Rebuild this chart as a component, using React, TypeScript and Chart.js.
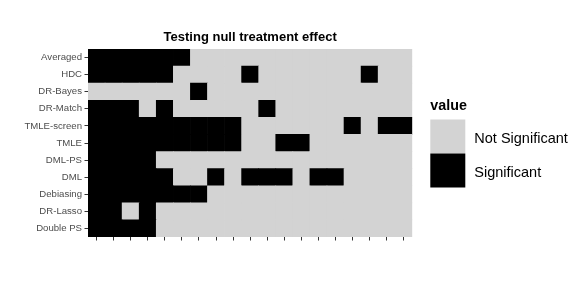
import React, { useEffect, useRef } from "react";
import { Chart, registerables } from "chart.js";

Chart.register(...registerables);

const FONT = "'Liberation Sans', Arial, Helvetica, sans-serif";

// Columns (replicates) — no labels shown on the axis
const columns = ["1", "2", "3", "4", "5", "6", "7", "8", "9", "10", "11", "12", "13", "14", "15", "16", "17", "18", "19"];

// Rows from top to bottom
const methods = ["Averaged", "HDC", "DR-Bayes", "DR-Match", "TMLE-screen", "TMLE", "DML-PS", "DML", "Debiasing", "DR-Lasso", "Double PS"];

// 1 = Significant, 0 = Not Significant
const averaged = [1, 1, 1, 1, 1, 1, 0, 0, 0, 0, 0, 0, 0, 0, 0, 0, 0, 0, 0];
const hdc = [1, 1, 1, 1, 1, 0, 0, 0, 0, 1, 0, 0, 0, 0, 0, 0, 1, 0, 0];
const drBayes = [0, 0, 0, 0, 0, 0, 1, 0, 0, 0, 0, 0, 0, 0, 0, 0, 0, 0, 0];
const drMatch = [1, 1, 1, 0, 1, 0, 0, 0, 0, 0, 1, 0, 0, 0, 0, 0, 0, 0, 0];
const tmleScreen = [1, 1, 1, 1, 1, 1, 1, 1, 1, 0, 0, 0, 0, 0, 0, 1, 0, 1, 1];
const tmle = [1, 1, 1, 1, 1, 1, 1, 1, 1, 0, 0, 1, 1, 0, 0, 0, 0, 0, 0];
const dmlPs = [1, 1, 1, 1, 0, 0, 0, 0, 0, 0, 0, 0, 0, 0, 0, 0, 0, 0, 0];
const dml = [1, 1, 1, 1, 1, 0, 0, 1, 0, 1, 1, 1, 0, 1, 1, 0, 0, 0, 0];
const debiasing = [1, 1, 1, 1, 1, 1, 1, 0, 0, 0, 0, 0, 0, 0, 0, 0, 0, 0, 0];
const drLasso = [1, 1, 0, 1, 0, 0, 0, 0, 0, 0, 0, 0, 0, 0, 0, 0, 0, 0, 0];
const doublePs = [1, 1, 1, 1, 0, 0, 0, 0, 0, 0, 0, 0, 0, 0, 0, 0, 0, 0, 0];

const rowValues = [averaged, hdc, drBayes, drMatch, tmleScreen, tmle, dmlPs, dml, debiasing, drLasso, doublePs];

const legendTitle = "value";
const legendLabels = ["Not Significant", "Significant"];
const legendColors = ["#d3d3d3", "#000000"];
const chartTitle = "Testing null treatment effect";

const legendPlugin = {
  id: "ggLegend",
  afterDraw(chart: any) {
    const ctx = chart.ctx;
    ctx.save();
    const x0 = chart.chartArea.right + 18;
    ctx.fillStyle = "#000";
    ctx.textAlign = "left";
    ctx.textBaseline = "alphabetic";
    ctx.font = `bold 14.3px ${FONT}`;
    ctx.fillText(legendTitle, x0, 110);
    const boxTop = 119.5;
    const boxSize = 34;
    legendLabels.forEach((lab, i) => {
      const y = boxTop + i * boxSize;
      ctx.fillStyle = legendColors[i];
      ctx.fillRect(x0, y, 35, boxSize);
      ctx.fillStyle = "#000";
      ctx.font = `14.5px ${FONT}`;
      ctx.fillText(lab, x0 + 44, y + boxSize / 2 + 6.5);
    });
    ctx.restore();
  },
};

export default function App() {
  const ref = useRef<HTMLCanvasElement | null>(null);
  useEffect(() => {
    if (!ref.current) return;
    const n = methods.length;
    // datasets stacked from the bottom row upward
    const datasets = methods
      .map((m, i) => ({
        label: m,
        data: columns.map(() => 1),
        backgroundColor: rowValues[i].map((v) => (v ? "#000000" : "#d3d3d3")),
        borderWidth: 0,
        barPercentage: 1,
        categoryPercentage: 1,
      }))
      .reverse();
    const bottomUp = [...methods].reverse();
    const chart = new Chart(ref.current, {
      type: "bar",
      data: { labels: columns, datasets },
      plugins: [legendPlugin],
      options: {
        animation: false,
        responsive: false,
        layout: { padding: { top: 0, right: 168.7, bottom: 0, left: 0 } },
        plugins: {
          legend: { display: false },
          tooltip: { enabled: false },
          title: {
            display: true,
            text: chartTitle,
            fullSize: false,
            color: "#000",
            font: { family: FONT, size: 13, weight: "bold", lineHeight: 1.2 },
            padding: { top: 29.2, bottom: 4.2 },
          },
        },
        scales: {
          x: {
            stacked: true,
            grid: { display: true, offset: false, drawOnChartArea: false, drawTicks: true, tickLength: 3.5, color: "#333333", lineWidth: 1 },
            border: { display: false },
            ticks: { display: true, callback: () => "", padding: 0 },
            afterFit: (s: any) => {
              s.height = 54;
            },
          },
          y: {
            stacked: true,
            min: 0,
            max: n,
            grid: { display: true, drawOnChartArea: false, drawTicks: true, tickLength: 3.5, color: "#333333", lineWidth: 1 },
            border: { display: false },
            afterBuildTicks: (s: any) => {
              s.ticks = bottomUp.map((_, i) => ({ value: i + 0.5 }));
            },
            ticks: {
              color: "#4d4d4d",
              font: { family: FONT, size: 9.6 },
              padding: 2.5,
              autoSkip: false,
              callback: (_v: any, i: number) => bottomUp[i],
            },
            afterFit: (s: any) => {
              s.width = 88;
            },
          },
        },
      },
    });
    return () => chart.destroy();
  }, []);
  return (
    <div style={{ position: "absolute", left: 0, top: 0, width: 581, height: 291, background: "#fff" }}>
      <canvas ref={ref} width={581} height={291} style={{ display: "block" }} />
    </div>
  );
}
